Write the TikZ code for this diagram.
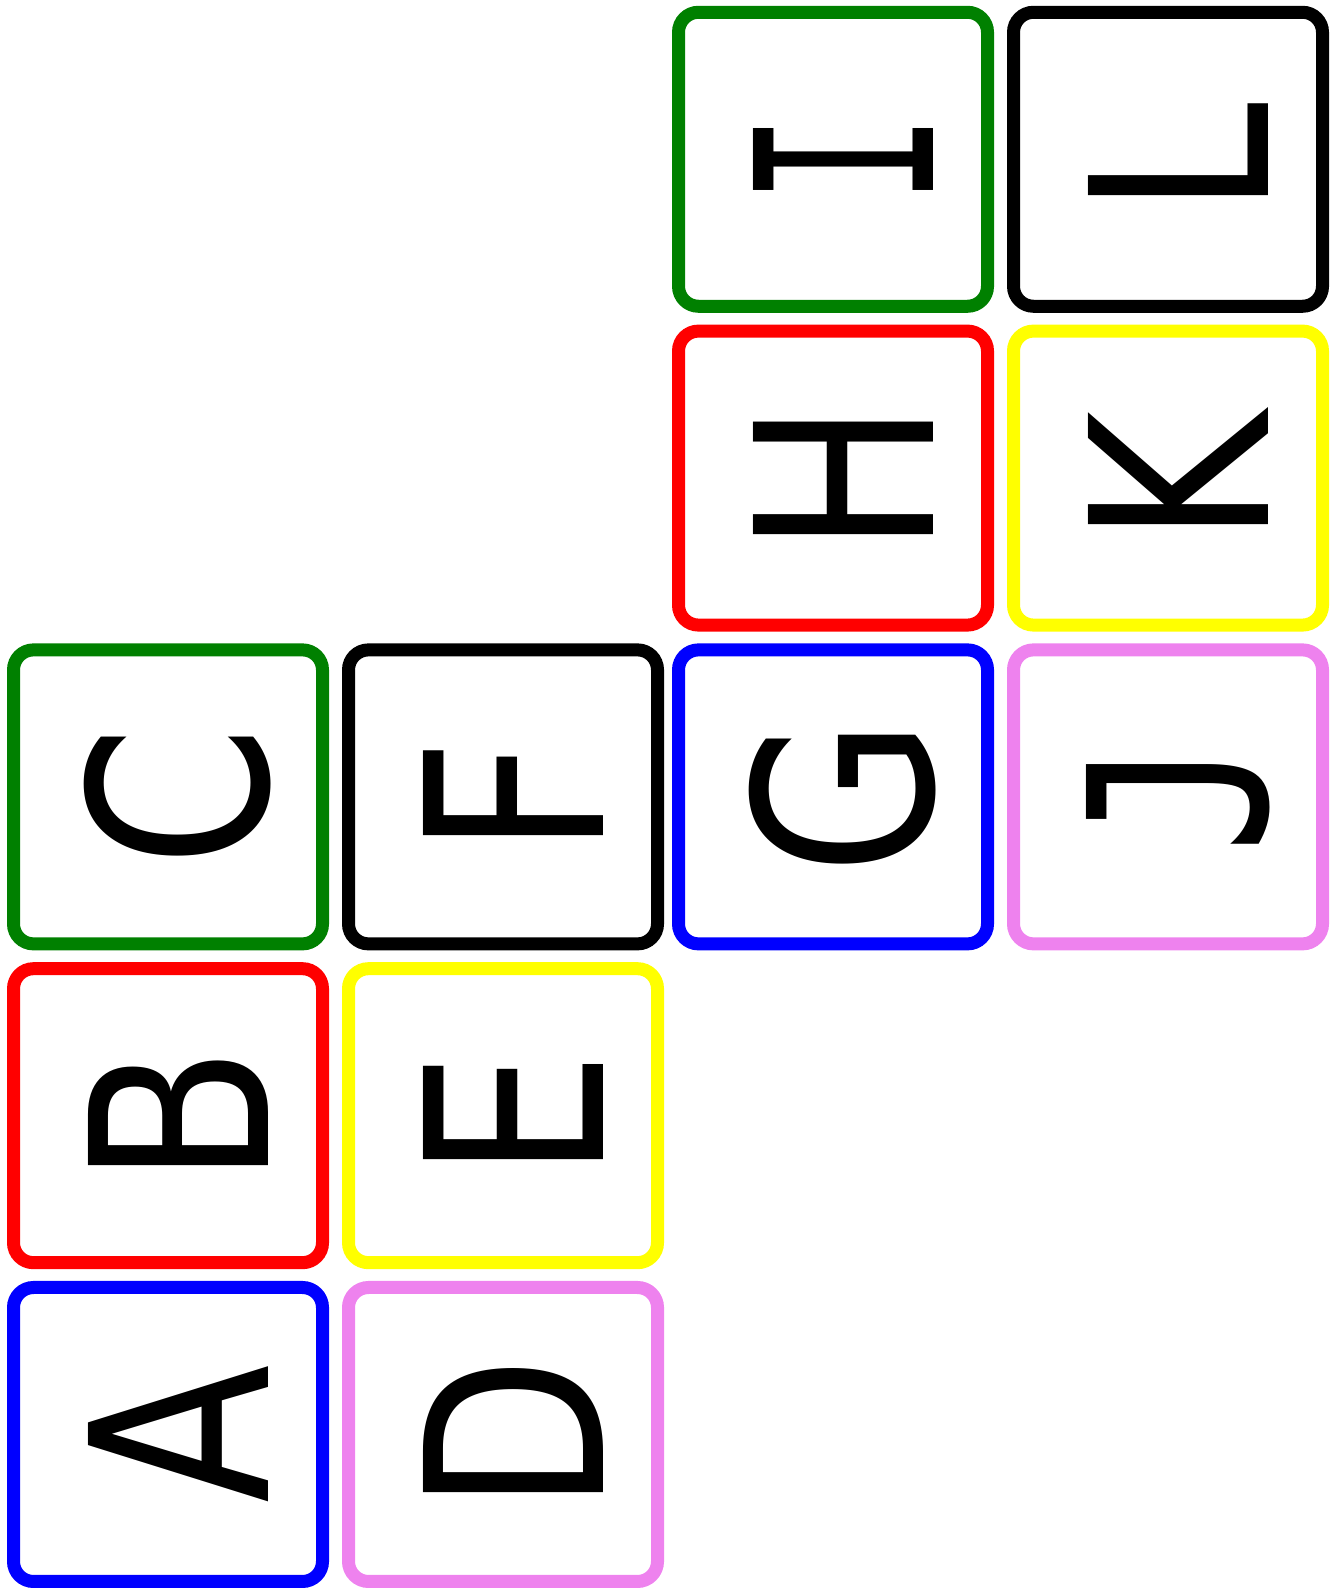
\documentclass[tikz,border=0pt]{standalone}
\usepackage{fontspec}
\setmainfont{DejaVu Sans}
\newfontfamily\monoglyph{DejaVu Sans Mono}
\usetikzlibrary{positioning}
\definecolor{cardgreen}{HTML}{008000}
\definecolor{cardviolet}{HTML}{EE82EE}
\definecolor{cardyellow}{HTML}{FFFF00}

\begin{document}
\begin{tikzpicture}[
          x=0.5pt, y=0.5pt,
          node distance=5.9pt and 6.5pt,
          card/.style={rectangle,draw,line width=6.5pt,rounded corners=10pt,minimum width=154.5pt,minimum height=147pt,inner sep=0pt},
          glyph/.style={rotate=90,inner sep=0pt,font=\fontsize{123.5}{123.5}\selectfont}
        ]
        \useasboundingbox (0,0) rectangle (1339,1589);
        % left two columns
        \node[card,draw=blue] (A) at (168,154.5) {};
        \node[card,draw=red,above=of A] (B) {};
        \node[card,draw=cardgreen,above=of B] (C) {};
        \node[card,draw=cardviolet,right=of A] (D) {};
        \node[card,draw=cardyellow,above=of D] (E) {};
        \node[card,draw=black,above=of E] (F) {};
        % right two columns
        \node[card,draw=blue,right=4pt of F] (G) {};
        \node[card,draw=red,above=of G] (H) {};
        \node[card,draw=cardgreen,above=of H] (I) {};
        \node[card,draw=cardviolet,right=of G] (J) {};
        \node[card,draw=cardyellow,above=of J] (K) {};
        \node[card,draw=black,above=of K] (L) {};
        \foreach \n/\w/\f in {A/0.82/\rmfamily,B/0.82/\rmfamily,C/0.82/\rmfamily,D/0.82/\rmfamily,
                              E/0.82/\rmfamily,F/0.82/\rmfamily,G/0.82/\rmfamily,H/0.82/\rmfamily,
                              I/0.62/\monoglyph,J/0.78/\monoglyph,K/0.82/\rmfamily,L/0.82/\rmfamily}
          \node[glyph] at ([xshift=5pt]\n.center) {\f\scalebox{\w}[1]{\n}};
      \end{tikzpicture}
\end{document}
